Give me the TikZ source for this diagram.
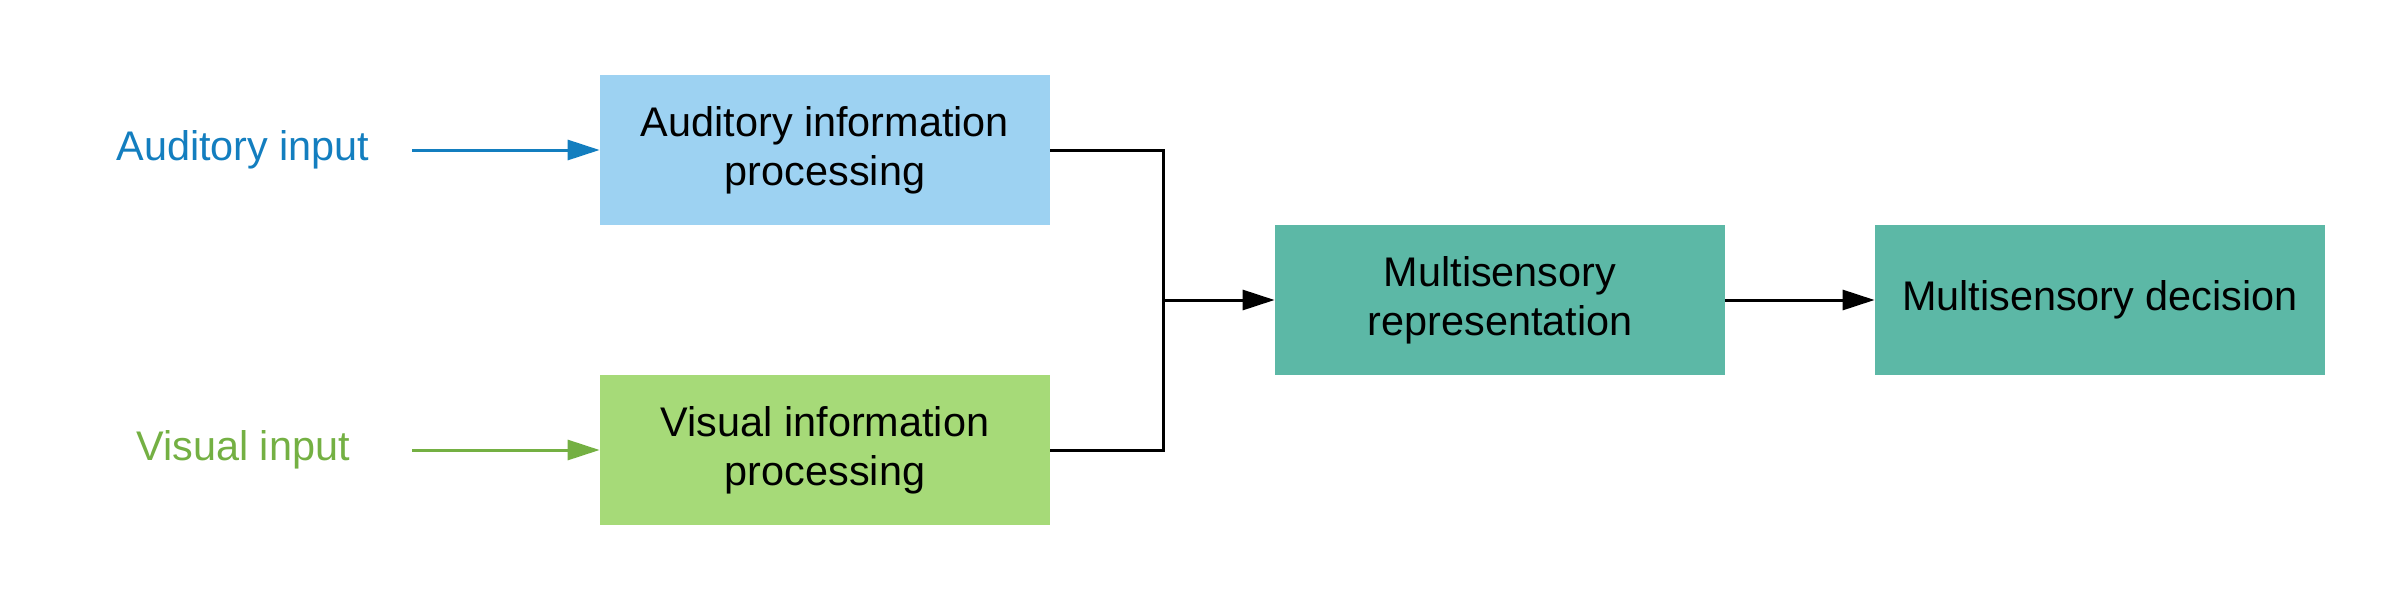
\documentclass[tikz,border=0pt]{standalone}
\usepackage{fontspec}
\setmainfont{Liberation Sans}
\usepackage{xcolor}
\usetikzlibrary{arrows.meta}

\definecolor{audfill}{HTML}{9DD2F2}
\definecolor{visfill}{HTML}{A6DA78}
\definecolor{multfill}{HTML}{5CB8A6}
\definecolor{audtext}{HTML}{137EBF}
\definecolor{vistext}{HTML}{74B043}

\tikzset{
  procbox/.style={minimum width=225pt,minimum height=75pt,inner sep=0pt,align=center,
    font=\fontsize{20.7}{24.5}\selectfont},
  inlabel/.style={inner sep=0pt,font=\fontsize{20.7}{24.5}\selectfont},
  flow/.style={line width=1.5pt,-{Triangle[length=16pt,width=10pt]}}
}

\begin{document}
\begin{tikzpicture}[x=0.5pt,y=0.5pt,yscale=-1,xscale=1]
\useasboundingbox (0,0) rectangle (2400,600);

% Boxes
\node [procbox,fill=audfill] (audproc) at (825,150) {Auditory information\\processing};
\node [procbox,fill=visfill] (visproc) at (825,450) {Visual information\\processing};
\node [procbox,fill=multfill] (multrep) at (1500,300) {Multisensory\\representation};
\node [procbox,fill=multfill] (multdec) at (2100,300) {Multisensory decision};

% Text Node
\node [inlabel,text=audtext] (audin) at (243,150) {Auditory input};
% Text Node
\node [inlabel,text=vistext] (visin) at (243,450) {Visual input};

\coordinate (audstart) at (412,150);
\coordinate (visstart) at (412,450);
\coordinate (join) at (1163,300);

% Input arrows
\draw [flow,audtext] (audstart) -- (audproc.west);
\draw [flow,vistext] (visstart) -- (visproc.west);

% Merge lines
\draw [line width=1.5pt] (audproc.east) -| (join) |- (visproc.east);
\draw [flow] (join) -- (multrep.west);
\draw [flow] (multrep.east) -- (multdec.west);

\end{tikzpicture}
\end{document}
